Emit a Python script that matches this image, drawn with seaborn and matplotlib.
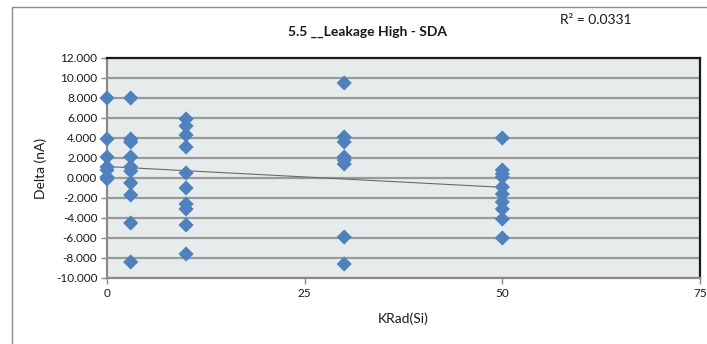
import numpy as np
import pandas as pd
import matplotlib
matplotlib.use("Agg")
import matplotlib.pyplot as plt
import seaborn as sns
from matplotlib.patches import Rectangle
from matplotlib.ticker import FormatStrFormatter

# ---- data ----
krad_0 = [8.0, 3.9, 2.1, 1.1, 0.8, 0.1, -0.1]
krad_3 = [8.0, 3.9, 3.6, 2.1, 1.1, 0.7, -0.5, -1.7, -4.5, -8.4]
krad_10 = [5.9, 5.2, 4.3, 3.1, 0.5, -1.0, -2.6, -3.1, -4.7, -7.6]
krad_30 = [9.5, 4.1, 3.6, 2.1, 1.8, 1.4, -5.9, -8.6]
krad_50 = [4.0, 0.8, 0.4, 0.1, -0.9, -1.6, -2.4, -3.1, -4.1, -6.0]
doses = [0, 3, 10, 30, 50]
title = "5.5 __Leakage High - SDA"
r2_label = "R² = 0.0331"
x_label = "KRad(Si)"
y_label = "Delta (nA)"
x_ticks = [0, 25, 50, 75]
y_ticks = [-10, -8, -6, -4, -2, 0, 2, 4, 6, 8, 10, 12]

groups = [krad_0, krad_3, krad_10, krad_30, krad_50]
df = pd.DataFrame({
    "KRad": np.concatenate([[d] * len(g) for d, g in zip(doses, groups)]),
    "Delta": np.concatenate(groups),
})

sns.set_theme(style="white")
plt.rcParams["font.family"] = ["Lato", "DejaVu Sans"]

fig = plt.figure(figsize=(7.07, 3.44), dpi=100)
W, H = 707, 344
ax = fig.add_axes([107 / W, 1 - 278 / H, (700 - 107) / W, (278 - 58) / H])

# chart-area border (left and top visible)
fig.patches.append(Rectangle((12 / W, -0.5), 1.5, 0.5 + (1 - 7 / H), transform=fig.transFigure,
                             fill=False, edgecolor="#8c8c8c", linewidth=1.0))

ax.set_facecolor("#E6ECEC")
ax.set_xlim(0, 75)
ax.set_ylim(-10, 12)
ax.set_yticks(y_ticks)
ax.set_xticks(x_ticks)
ax.yaxis.set_major_formatter(FormatStrFormatter("%.3f"))
ax.grid(axis="y", color="#9a9a9a", linewidth=1.6)
ax.set_axisbelow(True)

# trend line (least squares on the data)
slope, intercept = np.polyfit(df["KRad"], df["Delta"], 1)
xs = np.array([0, 50])
ax.plot(xs, intercept + slope * xs, color="#6a6a6a", linewidth=0.8, zorder=2)

sns.scatterplot(data=df, x="KRad", y="Delta", marker="D", s=60, color="#4F81BD",
                edgecolor="none", ax=ax, zorder=3, clip_on=False)

for side in ["top", "right"]:
    ax.spines[side].set_color("#1a1a1a")
    ax.spines[side].set_linewidth(1.6)
for side in ["left", "bottom"]:
    ax.spines[side].set_color("#8a8a8a")
    ax.spines[side].set_linewidth(1.6)

ax.tick_params(axis="both", which="major", length=4, width=1, color="#8a8a8a",
               labelsize=8.5, direction="out", left=True, bottom=True, pad=3)
for lab in ax.get_yticklabels() + ax.get_xticklabels():
    lab.set_color("#1a1a1a")

ax.set_xlabel(x_label, fontsize=10, color="#1a1a1a", labelpad=10)
ax.set_ylabel(y_label, fontsize=10, color="#1a1a1a", labelpad=6)

fig.text(368 / W, 1 - 32 / H, title, ha="center", va="center", fontsize=10,
         fontweight="bold", color="#1a1a1a")
fig.text(560 / W, 1 - 20 / H, r2_label, ha="left", va="center", fontsize=10,
         color="#1a1a1a")

fig.savefig("out.png", dpi=100)
